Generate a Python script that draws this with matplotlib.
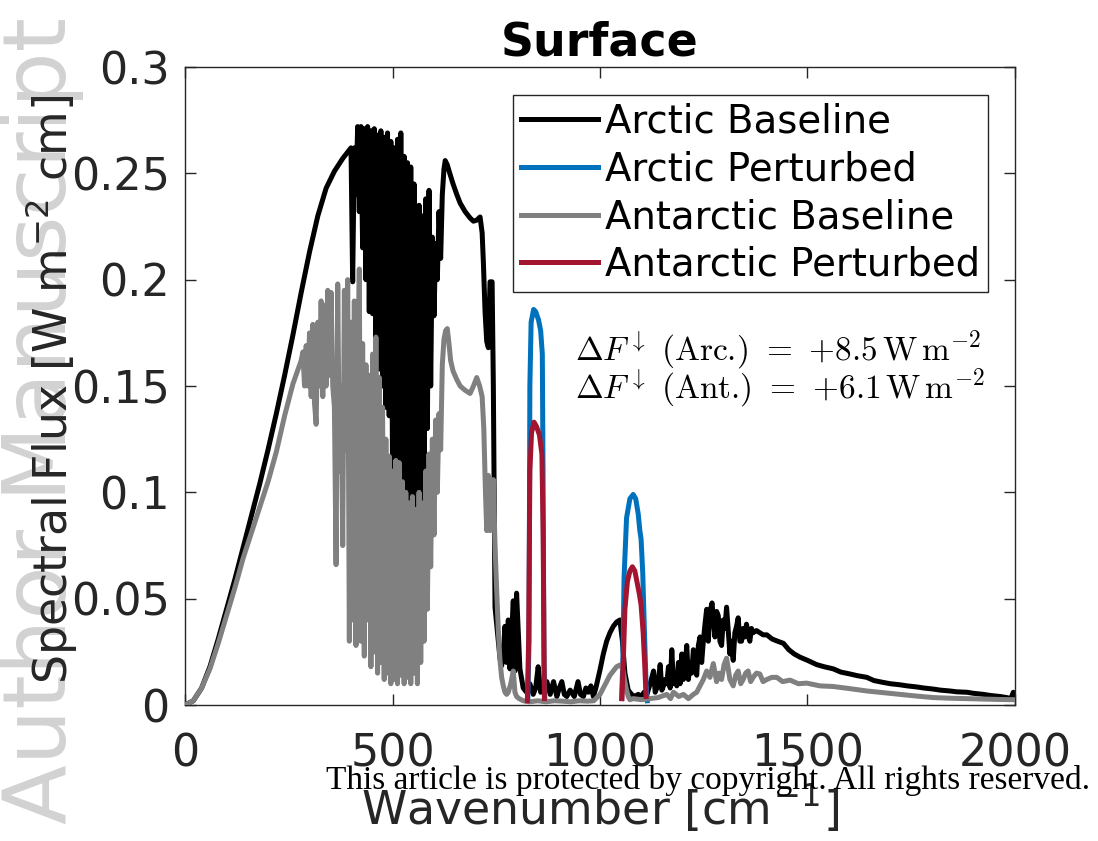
import numpy as np
import matplotlib
matplotlib.use('Agg')
import matplotlib.pyplot as plt

plt.rcParams['font.family'] = 'DejaVu Sans'
plt.rcParams['mathtext.fontset'] = 'cm'

# spectral flux at the surface, (wavenumber [cm-1], flux [W m-2 cm])
arctic_base = [
    (0, 0.0), (20, 0.002), (40, 0.008), (60, 0.018), (80, 0.031), (100, 0.045),
    (120, 0.059), (140, 0.074), (160, 0.089), (180, 0.104), (200, 0.120),
    (220, 0.137), (240, 0.155), (260, 0.174), (280, 0.194), (300, 0.213),
    (320, 0.230), (340, 0.243), (360, 0.251), (380, 0.257),
    (384, 0.258), (388, 0.259), (392, 0.260), (396, 0.261), (400, 0.262),
    (404, 0.199), (408, 0.262), (412, 0.240), (416, 0.272), (420, 0.232),
    (424, 0.272), (428, 0.215), (432, 0.271), (436, 0.200), (440, 0.272),
    (444, 0.185), (448, 0.270), (452, 0.184), (456, 0.271), (460, 0.168),
    (464, 0.268), (468, 0.158), (472, 0.270), (476, 0.150), (480, 0.267),
    (484, 0.140), (488, 0.269), (492, 0.136), (496, 0.265), (500, 0.112),
    (504, 0.262), (508, 0.110), (512, 0.266), (516, 0.100), (520, 0.269),
    (524, 0.092), (528, 0.258), (532, 0.090), (536, 0.255), (540, 0.095),
    (544, 0.253), (548, 0.088), (552, 0.245), (556, 0.080), (560, 0.074),
    (564, 0.235), (568, 0.090), (572, 0.230), (576, 0.104), (580, 0.238),
    (584, 0.130), (588, 0.242), (592, 0.150), (596, 0.220), (600, 0.183),
    (604, 0.217), (608, 0.200), (612, 0.232), (616, 0.210), (620, 0.240),
    (624, 0.252), (627, 0.256), (632, 0.254), (638, 0.250), (646, 0.245),
    (655, 0.240), (663, 0.236), (675, 0.232), (687, 0.229), (695, 0.2275),
    (703, 0.228), (711, 0.2295), (716, 0.222), (719, 0.208), (723, 0.185),
    (727, 0.171), (731, 0.168), (735, 0.199), (740, 0.199), (743, 0.150),
    (747, 0.046), (751, 0.038), (755, 0.030), (759, 0.022), (763, 0.0185),
    (767, 0.024), (771, 0.037), (775, 0.020), (779, 0.040), (783, 0.017),
    (791, 0.049), (795, 0.016), (799, 0.0526), (807, 0.017), (815, 0.008),
    (823, 0.006), (831, 0.010), (839, 0.005), (845, 0.008), (851, 0.018),
    (857, 0.006), (864, 0.008), (872, 0.011), (880, 0.005), (888, 0.011),
    (896, 0.004), (902, 0.008), (908, 0.011), (914, 0.005), (920, 0.004),
    (928, 0.007), (938, 0.004), (947, 0.011), (953, 0.005), (960, 0.004),
    (966, 0.008), (972, 0.006), (978, 0.009), (984, 0.004), (990, 0.008),
    (1000, 0.0165), (1008, 0.024), (1016, 0.030), (1024, 0.034), (1032, 0.037),
    (1040, 0.039), (1048, 0.040), (1054, 0.030), (1060, 0.015), (1068, 0.007),
    (1076, 0.005), (1084, 0.004), (1092, 0.005), (1100, 0.004), (1106, 0.006),
    (1113, 0.005), (1121, 0.010), (1129, 0.016), (1133, 0.006), (1137, 0.008),
    (1141, 0.012), (1145, 0.019), (1149, 0.007), (1153, 0.009), (1157, 0.012),
    (1161, 0.010), (1165, 0.018), (1169, 0.008), (1173, 0.026), (1177, 0.010),
    (1181, 0.014), (1185, 0.009), (1189, 0.020), (1193, 0.010), (1197, 0.024),
    (1201, 0.012), (1205, 0.018), (1209, 0.028), (1213, 0.012), (1217, 0.020),
    (1221, 0.015), (1225, 0.026), (1229, 0.019), (1233, 0.014), (1237, 0.028),
    (1241, 0.032), (1245, 0.020), (1249, 0.030), (1253, 0.038), (1257, 0.045),
    (1261, 0.030), (1265, 0.044), (1270, 0.048), (1274, 0.038), (1277, 0.032),
    (1281, 0.044), (1285, 0.042), (1289, 0.030), (1293, 0.028), (1297, 0.040),
    (1301, 0.036), (1305, 0.046), (1309, 0.035), (1313, 0.024), (1317, 0.030),
    (1321, 0.021), (1325, 0.034), (1329, 0.037), (1333, 0.041), (1337, 0.030),
    (1341, 0.030), (1345, 0.036), (1349, 0.032), (1353, 0.038), (1357, 0.033),
    (1361, 0.030), (1365, 0.036), (1369, 0.034), (1377, 0.035), (1385, 0.034),
    (1393, 0.033), (1402, 0.033), (1415, 0.031), (1428, 0.030), (1442, 0.029),
    (1455, 0.026), (1468, 0.024), (1482, 0.0225), (1500, 0.021), (1522, 0.019),
    (1540, 0.018), (1562, 0.017), (1580, 0.0155), (1602, 0.0146), (1620, 0.0138),
    (1643, 0.013), (1660, 0.0115), (1683, 0.0106), (1700, 0.010), (1723, 0.0095),
    (1740, 0.009), (1763, 0.0085), (1780, 0.008), (1803, 0.0075), (1820, 0.007),
    (1843, 0.0066), (1860, 0.0062), (1884, 0.006), (1900, 0.0055), (1924, 0.005),
    (1940, 0.0045), (1964, 0.004), (1980, 0.0035), (1990, 0.003), (1996, 0.006),
    (2000, 0.004),
]

antarctic_base = [
    (0, 0.0), (20, 0.002), (40, 0.008), (60, 0.017), (80, 0.029), (100, 0.042),
    (120, 0.055), (140, 0.069), (160, 0.081), (180, 0.093), (200, 0.105),
    (220, 0.119), (240, 0.136), (260, 0.151), (280, 0.162),
    (284, 0.166), (288, 0.150), (292, 0.169), (296, 0.150), (300, 0.175),
    (304, 0.145), (308, 0.179), (312, 0.142), (316, 0.132), (320, 0.180),
    (324, 0.150), (328, 0.190), (332, 0.145), (336, 0.188), (340, 0.150),
    (344, 0.195), (348, 0.155), (352, 0.194), (356, 0.150), (360, 0.140),
    (364, 0.066), (368, 0.198), (372, 0.110), (376, 0.150), (380, 0.075),
    (384, 0.195), (388, 0.120), (392, 0.200), (396, 0.030), (400, 0.180),
    (404, 0.040), (408, 0.190), (412, 0.028), (416, 0.150), (420, 0.205),
    (424, 0.030), (428, 0.170), (432, 0.023), (436, 0.160), (440, 0.040),
    (444, 0.155), (448, 0.018), (452, 0.165), (456, 0.025), (460, 0.173),
    (464, 0.015), (468, 0.154), (472, 0.020), (476, 0.140), (480, 0.012),
    (484, 0.125), (488, 0.015), (492, 0.117), (496, 0.010), (500, 0.110),
    (504, 0.012), (508, 0.115), (512, 0.010), (516, 0.114), (520, 0.014),
    (524, 0.105), (528, 0.010), (532, 0.100), (536, 0.013), (540, 0.095),
    (544, 0.010), (548, 0.098), (552, 0.015), (556, 0.092), (560, 0.010),
    (564, 0.100), (568, 0.020), (572, 0.095), (576, 0.030), (580, 0.110),
    (584, 0.045), (588, 0.118), (592, 0.065), (596, 0.125), (600, 0.080),
    (604, 0.134), (608, 0.100), (612, 0.137), (616, 0.120), (620, 0.160),
    (624, 0.172), (628, 0.176), (632, 0.177), (636, 0.170), (640, 0.162),
    (646, 0.157), (655, 0.153), (663, 0.150), (675, 0.148), (687, 0.1465),
    (695, 0.150), (703, 0.154), (710, 0.150), (716, 0.145), (720, 0.130),
    (724, 0.100), (727, 0.082), (731, 0.108), (735, 0.082), (739, 0.090),
    (743, 0.106), (747, 0.075), (751, 0.054), (755, 0.035), (759, 0.021),
    (763, 0.013), (767, 0.009), (771, 0.006), (775, 0.005), (779, 0.006),
    (785, 0.010), (791, 0.016), (795, 0.006), (799, 0.004), (805, 0.003),
    (815, 0.002), (830, 0.0015), (850, 0.002), (870, 0.0015), (890, 0.002),
    (910, 0.0018), (930, 0.0015), (950, 0.002), (970, 0.0018), (985, 0.002),
    (1000, 0.005), (1008, 0.008), (1016, 0.011), (1024, 0.014), (1032, 0.016),
    (1040, 0.018), (1048, 0.0188), (1052, 0.018), (1056, 0.016), (1060, 0.011),
    (1064, 0.007), (1068, 0.004), (1072, 0.0025), (1080, 0.003), (1100, 0.0025),
    (1120, 0.003), (1140, 0.0035), (1161, 0.005), (1170, 0.003), (1177, 0.006),
    (1190, 0.004), (1201, 0.005), (1213, 0.003), (1225, 0.005), (1233, 0.006),
    (1241, 0.009), (1249, 0.012), (1257, 0.016), (1265, 0.013), (1273, 0.0195),
    (1281, 0.011), (1287, 0.015), (1293, 0.012), (1299, 0.019), (1305, 0.022),
    (1313, 0.012), (1321, 0.009), (1327, 0.014), (1333, 0.016), (1339, 0.010),
    (1345, 0.012), (1351, 0.015), (1357, 0.016), (1363, 0.011), (1369, 0.013),
    (1377, 0.015), (1385, 0.0146), (1393, 0.011), (1402, 0.012), (1414, 0.013),
    (1426, 0.013), (1440, 0.011), (1458, 0.0117), (1478, 0.010), (1498, 0.0103),
    (1530, 0.009), (1562, 0.0087), (1602, 0.0077), (1643, 0.0066), (1683, 0.0058),
    (1723, 0.005), (1763, 0.0042), (1803, 0.0035), (1843, 0.0032), (1884, 0.003),
    (1924, 0.0028), (1964, 0.0026), (2000, 0.0025),
]

# perturbed runs differ only inside two window bands
arctic_pert_band1 = [
    (826, 0.002), (829, 0.030), (831, 0.150), (834, 0.180), (840, 0.186),
    (845, 0.185), (852, 0.181), (857, 0.176), (861, 0.165), (863, 0.100),
    (865, 0.020), (867, 0.002),
]
arctic_pert_band2 = [
    (1052, 0.003), (1055, 0.020), (1058, 0.060), (1064, 0.088), (1072, 0.097),
    (1080, 0.099), (1086, 0.097), (1092, 0.090), (1096, 0.082), (1099, 0.078),
    (1103, 0.062), (1107, 0.035), (1111, 0.010), (1114, 0.002),
]
antarctic_pert_band1 = [
    (825, 0.002), (828, 0.030), (831, 0.110), (835, 0.128), (841, 0.133),
    (847, 0.131), (854, 0.127), (860, 0.118), (863, 0.080), (866, 0.003),
]
antarctic_pert_band2 = [
    (1053, 0.003), (1056, 0.020), (1060, 0.045), (1066, 0.058), (1072, 0.063),
    (1078, 0.065), (1084, 0.063), (1090, 0.057), (1095, 0.052), (1099, 0.047),
    (1104, 0.034), (1108, 0.018), (1111, 0.004),
]

series_labels = ['Arctic Baseline', 'Arctic Perturbed', 'Antarctic Baseline', 'Antarctic Perturbed']
xtick_vals = [0, 500, 1000, 1500, 2000]
ytick_vals = [0, 0.05, 0.1, 0.15, 0.2, 0.25, 0.3]
ytick_labels = ['0', '0.05', '0.1', '0.15', '0.2', '0.25', '0.3']
delta_arc = 8.5
delta_ant = 6.1

BLACK = 'black'
BLUE = '#0072BD'
GREY = '#808080'
RED = '#A2142F'
AXC = '#262626'
LW = 3.6


def xy(pairs):
    a = np.array(pairs)
    return a[:, 0], a[:, 1]


fig = plt.figure(figsize=(10.98, 8.41), dpi=100)
ax = fig.add_axes([0.1685, 0.1617, 0.7559, 0.7586])

ax.plot(*xy(arctic_base), color=BLACK, lw=LW, label=series_labels[0], zorder=2)
ax.plot(*xy(arctic_pert_band1), color=BLUE, lw=LW, label=series_labels[1], zorder=3)
ax.plot(*xy(arctic_pert_band2), color=BLUE, lw=LW, zorder=3)
ax.plot(*xy(antarctic_base), color=GREY, lw=LW, label=series_labels[2], zorder=4)
ax.plot(*xy(antarctic_pert_band1), color=RED, lw=LW, label=series_labels[3], zorder=5)
ax.plot(*xy(antarctic_pert_band2), color=RED, lw=LW, zorder=5)

ax.set_xlim(0, 2000)
ax.set_ylim(0, 0.3)
ax.set_xticks(xtick_vals)
ax.set_yticks(ytick_vals)
ax.set_yticklabels(ytick_labels)
ax.tick_params(direction='in', length=8, width=1, top=True, right=True,
               labelsize=32, color=AXC, labelcolor=AXC)
ax.tick_params(axis='x', pad=20)
ax.tick_params(axis='y', pad=11)
for s in ax.spines.values():
    s.set_color(AXC)
    s.set_linewidth(1)

ax.set_title('Surface', fontsize=33, fontweight='bold', pad=8)
ax.set_xlabel(r'Wavenumber [cm$^{\mathregular{-1}}$]', fontsize=33, color=AXC)
ax.set_ylabel(r'Spectral Flux [W m$^{\mathregular{-2}}$ cm]', fontsize=33, color=AXC)
ax.xaxis.set_label_coords(0.5, -0.122)
ax.yaxis.set_label_coords(-0.127, 0.494)

leg = ax.legend(loc='upper right', bbox_to_anchor=(0.9675, 0.956), borderaxespad=0,
                fontsize=27.8, fancybox=False, edgecolor=AXC, framealpha=1,
                handlelength=2.0, handletextpad=0.19, labelspacing=0.25, borderpad=0.2)
leg.get_frame().set_linewidth(1.0)

# non-math parts in Computer Modern to match the math
ax.text(0.47, 0.556, r'$\Delta F^{\downarrow}$ (Arc.) $=$ $+%.1f\,\mathrm{W\,m^{-2}}$' % delta_arc,
        transform=ax.transAxes, fontsize=24, va='center', ha='left', family='cmr10')
ax.text(0.47, 0.497, r'$\Delta F^{\downarrow}$ (Ant.) $=$ $+%.1f\,\mathrm{W\,m^{-2}}$' % delta_ant,
        transform=ax.transAxes, fontsize=24, va='center', ha='left', family='cmr10')

fig.text(0.038, 0.5, 'Author Manuscript', rotation=90, fontsize=63, color='#d2d2d2',
         ha='center', va='center', zorder=-1)
fig.text(0.9927, 0.0725, 'This article is protected by copyright. All rights reserved.',
         family='Liberation Serif', fontsize=24, ha='right', va='center', zorder=10)

fig.savefig('out.png', dpi=100)
